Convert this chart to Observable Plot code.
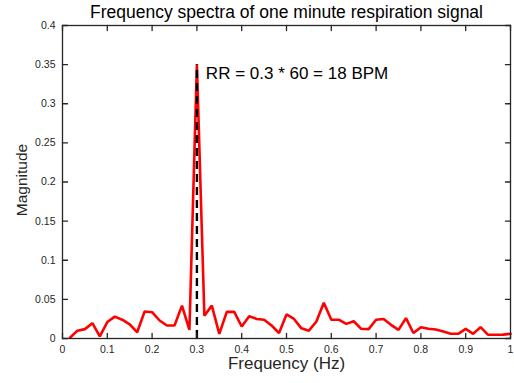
<!DOCTYPE html>
<html>
<head>
<meta charset="utf-8">
<script src="https://cdn.jsdelivr.net/npm/d3@7"></script>
<script src="https://cdn.jsdelivr.net/npm/@observablehq/plot@0.6"></script>
<style>
  html, body { margin: 0; padding: 0; background: #fff; }
  #chart svg { display: block; }
</style>
</head>
<body>
<div id="chart"></div>
<script>
// Frequency bins (Hz) of a one-minute signal
const freq = [
  0.0167, 0.0333, 0.0500, 0.0667, 0.0833, 0.1000, 0.1167, 0.1333, 0.1500, 0.1667,
  0.1833, 0.2000, 0.2167, 0.2333, 0.2500, 0.2667, 0.2833, 0.3000, 0.3167, 0.3333,
  0.3500, 0.3667, 0.3833, 0.4000, 0.4167, 0.4333, 0.4500, 0.4667, 0.4833, 0.5000,
  0.5167, 0.5333, 0.5500, 0.5667, 0.5833, 0.6000, 0.6167, 0.6333, 0.6500, 0.6667,
  0.6833, 0.7000, 0.7167, 0.7333, 0.7500, 0.7667, 0.7833, 0.8000, 0.8167, 0.8333,
  0.8500, 0.8667, 0.8833, 0.9000, 0.9167, 0.9333, 0.9500, 0.9667, 0.9833, 1.0000
];
// Magnitude values
const magnitude = [
  0.001, 0.010, 0.012, 0.0196, 0.0026, 0.021, 0.028, 0.024, 0.018, 0.008,
  0.0345, 0.0336, 0.023, 0.0166, 0.0166, 0.042, 0.011, 0.350, 0.029, 0.042,
  0.006, 0.034, 0.034, 0.0153, 0.0285, 0.025, 0.024, 0.0166, 0.007, 0.0307,
  0.025, 0.013, 0.010, 0.0217, 0.0456, 0.024, 0.024, 0.0187, 0.022, 0.0124,
  0.012, 0.024, 0.025, 0.0175, 0.011, 0.026, 0.007, 0.0145, 0.0124, 0.0115,
  0.009, 0.006, 0.006, 0.0124, 0.006, 0.0145, 0.0047, 0.0047, 0.005, 0.006
];
// Marker for the respiration peak
const peakFreq = [0.3];
const peakMag = [0.35];
const annotationText = ["RR = 0.3 * 60 = 18 BPM"];
const annotationX = [0.32];
const annotationY = [0.338];

const xTicks = [0, 0.1, 0.2, 0.3, 0.4, 0.5, 0.6, 0.7, 0.8, 0.9, 1];
const xTickLabels = ["0", "0.1", "0.2", "0.3", "0.4", "0.5", "0.6", "0.7", "0.8", "0.9", "1"];
const yTicks = [0, 0.05, 0.1, 0.15, 0.2, 0.25, 0.3, 0.35, 0.4];
const yTickLabels = ["0", "0.05", "0.1", "0.15", "0.2", "0.25", "0.3", "0.35", "0.4"];

const title = "Frequency spectra of one minute respiration signal";
const xLabel = "Frequency (Hz)";
const yLabel = "Magnitude";

const spectrum = freq.map((f, i) => ({f, m: magnitude[i]}));
const peak = peakFreq.map((f, i) => ({f, m: peakMag[i]}));

const axisColor = "#262626";
const tickShape = {draw(context, l) { context.moveTo(0, 0); context.lineTo(0, -l); }};
const tickLen = 5;
const tickStyle = {length: tickLen, anchor: "start", shape: tickShape, stroke: axisColor, strokeWidth: 1.3};

const chart = Plot.plot({
  width: 514,
  height: 383,
  marginLeft: 62,
  marginRight: 4,
  marginTop: 25,
  marginBottom: 45,
  style: {fontFamily: "'Liberation Sans', Arial, Helvetica, sans-serif", background: "#fff"},
  x: {domain: [0, 1]},
  y: {domain: [0, 0.4]},
  marks: [
    Plot.line(spectrum, {x: "f", y: "m", stroke: "#ff0000", strokeWidth: 2.6, strokeLinejoin: "miter"}),
    Plot.ruleX(peak, {x: "f", y1: 0, y2: "m", stroke: "#000", strokeWidth: 2.4, strokeDasharray: "8,5"}),
    Plot.text(annotationText, {x: annotationX, y: annotationY,
      textAnchor: "start", lineAnchor: "middle", fontSize: 17, fill: "#000"}),
    // inward ticks on all four sides
    Plot.vector(xTicks, {x: d => d, y: 0, rotate: 0, ...tickStyle}),
    Plot.vector(xTicks, {x: d => d, y: 0.4, rotate: 180, ...tickStyle}),
    Plot.vector(yTicks, {x: 0, y: d => d, rotate: 90, ...tickStyle}),
    Plot.vector(yTicks, {x: 1, y: d => d, rotate: -90, ...tickStyle}),
    Plot.frame({stroke: axisColor, strokeWidth: 1.3}),
    Plot.axisX(xTicks, {tickSize: 0, tickPadding: 7, fontSize: 10.5, fill: axisColor,
      tickFormat: (d, i) => xTickLabels[i], label: null}),
    Plot.axisY(yTicks, {tickSize: 0, tickPadding: 7, fontSize: 10.5, fill: axisColor,
      tickFormat: (d, i) => yTickLabels[i], label: null}),
    Plot.text([xLabel], {frameAnchor: "bottom", dy: 25, textAnchor: "middle", lineAnchor: "middle", fontSize: 17, fill: axisColor}),
    Plot.text([yLabel], {frameAnchor: "left", dx: -40.5, dy: -2, rotate: -90, textAnchor: "middle", lineAnchor: "middle", fontSize: 15.5, fill: axisColor}),
    Plot.text([title], {frameAnchor: "top", dy: -8, textAnchor: "middle", lineAnchor: "bottom", fontSize: 17.5, fill: "#000"})
  ]
});
document.getElementById("chart").appendChild(chart);
</script>
</body>
</html>
